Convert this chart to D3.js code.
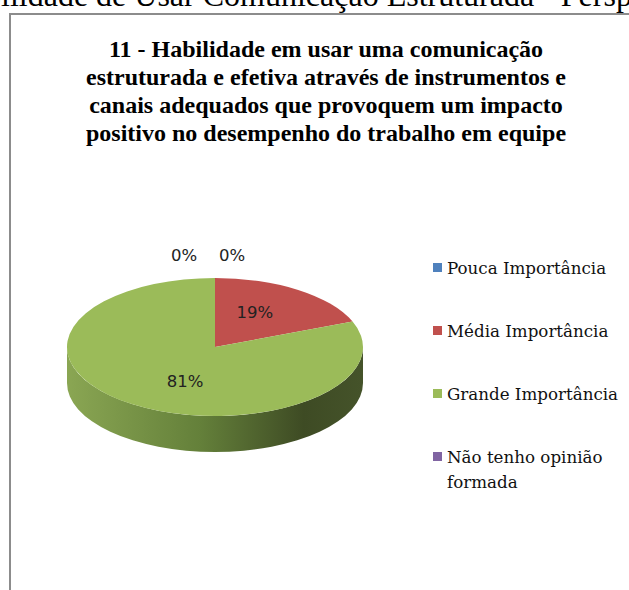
<!DOCTYPE html>
<html>
<head>
<meta charset="utf-8">
<script src="https://cdn.jsdelivr.net/npm/d3@7"></script>
<style>
  html, body { margin: 0; padding: 0; background: #fff; overflow: hidden; }
  svg { display: block; }
</style>
</head>
<body>
<div id="chart"></div>
<script>
// Chart data
const categories = ["Pouca Importância", "Média Importância", "Grande Importância", "Não tenho opinião formada"];
const values = [0, 19, 81, 0];
const colors = ["#4F81BD", "#C0504D", "#9BBB59", "#8064A2"];
const titleLines = [
    "11 - Habilidade em usar uma comunicação",
    "estruturada e efetiva através de instrumentos e",
    "canais adequados que provoquem um impacto",
    "positivo no desempenho do trabalho em equipe"
];
const pageHeading = "Habilidade de Usar Comunicação Estruturada - Perspectiva";

const width = 629, height = 590;

const svg = d3.select("#chart")
    .append("svg")
    .attr("width", width)
    .attr("height", height);

// Document heading cut off at the top of the picture
const heading = svg.append("text")
    .attr("y", 6)
    .style("font-family", "'Liberation Serif', 'Times New Roman', serif")
    .style("font-size", "32px")
    .attr("fill", "#000")
    .text(pageHeading);
// Shift so the visible part starts with "ilidade" at the left edge
const pre = heading.node().getSubStringLength(0, pageHeading.indexOf("ilidade"));
heading.attr("x", 1 - pre);

// Chart frame (runs off the right and bottom edges)
svg.append("rect")
    .attr("x", 10)
    .attr("y", 14)
    .attr("width", 800)
    .attr("height", 800)
    .attr("fill", "#fff")
    .attr("stroke", "#8c8c8c")
    .attr("stroke-width", 2);

// Title
svg.append("g")
    .selectAll("text")
    .data(titleLines)
    .enter()
    .append("text")
    .attr("x", 326)
    .attr("y", (d, i) => 57 + i * 28)
    .attr("text-anchor", "middle")
    .style("font-family", "'Liberation Serif', 'Times New Roman', serif")
    .style("font-weight", "bold")
    .style("font-size", "24px")
    .attr("fill", "#000")
    .text(d => d);

// 3D pie geometry
const cx = 215, cy = 347, rx = 148, ry = 69, depth = 36;
const pt = (a, dy = 0) => [cx + rx * Math.sin(a), cy - ry * Math.cos(a) + dy];

const pie = d3.pie().sort(null).startAngle(0).endAngle(2 * Math.PI);
const arcs = pie(values).map((d, i) => ({ ...d, i }));

// Side gradient
const defs = svg.append("defs");
const grad = defs.append("linearGradient")
    .attr("id", "sideGreen")
    .attr("gradientUnits", "userSpaceOnUse")
    .attr("x1", cx - rx).attr("x2", cx + rx)
    .attr("y1", 0).attr("y2", 0);
grad.append("stop").attr("offset", "0%").attr("stop-color", "#8aa653");
grad.append("stop").attr("offset", "45%").attr("stop-color", "#64803a");
grad.append("stop").attr("offset", "80%").attr("stop-color", "#3e4b24");
grad.append("stop").attr("offset", "100%").attr("stop-color", "#45532a");

const sideFill = ["#3a5a86", "#8a3a38", "url(#sideGreen)", "#5b4875"];

// Side walls: only the front half (PI/2 .. 3PI/2) is visible
svg.append("g")
    .selectAll("path")
    .data(arcs.filter(d => d.value > 0 &&
        Math.max(d.startAngle, Math.PI / 2) < Math.min(d.endAngle, 3 * Math.PI / 2)))
    .enter()
    .append("path")
    .attr("fill", d => sideFill[d.i])
    .attr("d", d => {
        const a0 = Math.max(d.startAngle, Math.PI / 2);
        const a1 = Math.min(d.endAngle, 3 * Math.PI / 2);
        const p0 = pt(a0), p1 = pt(a1), q1 = pt(a1, depth), q0 = pt(a0, depth);
        return `M${p0}A${rx},${ry} 0 0 1 ${p1}L${q1}A${rx},${ry} 0 0 0 ${q0}Z`;
    });

// Top faces
svg.append("g")
    .selectAll("path")
    .data(arcs.filter(d => d.value > 0))
    .enter()
    .append("path")
    .attr("fill", d => colors[d.i])
    .attr("d", d => {
        const p0 = pt(d.startAngle), p1 = pt(d.endAngle);
        const large = d.endAngle - d.startAngle > Math.PI ? 1 : 0;
        return `M${cx},${cy}L${p0}A${rx},${ry} 0 ${large} 1 ${p1}Z`;
    });

// Labels
const fmt = d => Math.round(d.value / d3.sum(values) * 100) + "%";
const labelStyle = sel => sel
    .attr("text-anchor", "middle")
    .attr("dominant-baseline", "central")
    .style("font-family", "'DejaVu Sans', Verdana, sans-serif")
    .style("font-size", "16.5px")
    .attr("fill", "#222");

const labels = svg.append("g");
labels.selectAll("text.in")
    .data(arcs.filter(d => d.value > 0))
    .enter()
    .append("text")
    .attr("class", "in")
    .attr("x", d => cx + 5 + rx * 0.42 * Math.sin((d.startAngle + d.endAngle) / 2))
    .attr("y", d => cy - ry * 0.6 * Math.cos((d.startAngle + d.endAngle) / 2))
    .call(labelStyle)
    .text(fmt);

// Zero slices sit together at the top; Excel spreads their labels sideways
const zeros = arcs.filter(d => d.value === 0)
    .sort((a, b) => b.startAngle - a.startAngle);
labels.selectAll("text.out")
    .data(zeros)
    .enter()
    .append("text")
    .attr("class", "out")
    .attr("x", (d, k) => cx - 7 + (k - (zeros.length - 1) / 2) * 48)
    .attr("y", cy - ry - 23)
    .call(labelStyle)
    .text(fmt);

// Legend
const legend = svg.append("g")
    .selectAll("g")
    .data(categories)
    .enter()
    .append("g")
    .attr("transform", (d, i) => `translate(433,${268 + i * 63})`);

legend.append("rect")
    .attr("x", 0)
    .attr("y", -5)
    .attr("width", 9)
    .attr("height", 9)
    .attr("fill", (d, i) => colors[i]);

legend.append("text")
    .attr("x", 14)
    .attr("y", 6)
    .style("font-family", "'DejaVu Serif', 'Liberation Serif', serif")
    .style("font-size", "16.7px")
    .attr("fill", "#111")
    .each(function (d) {
        // Wrap long entries onto two lines like the original
        const t = d3.select(this);
        const lines = d.length > 20 ? [d.slice(0, d.lastIndexOf(" ")), d.slice(d.lastIndexOf(" ") + 1)] : [d];
        lines.forEach((line, j) => {
            t.append("tspan").attr("x", 14).attr("dy", j ? 25 : 0).text(line);
        });
    });
</script>
</body>
</html>
